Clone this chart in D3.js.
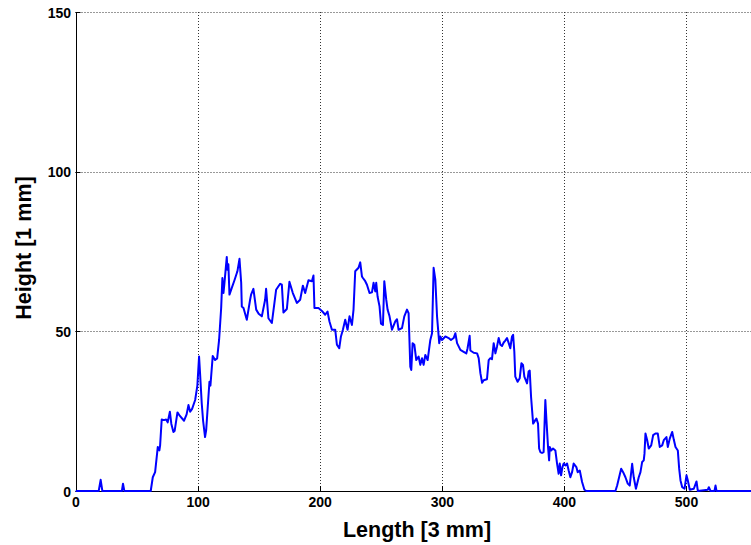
<!DOCTYPE html>
<html>
<head>
<meta charset="utf-8">
<script src="https://cdn.jsdelivr.net/npm/d3@7"></script>
<style>
  html, body { margin: 0; padding: 0; background: #fff; }
  svg { display: block; font-family: "Liberation Sans", Arial, sans-serif; }
</style>
</head>
<body>
<svg id="chart" width="751" height="545"></svg>
<script>
// Surface profile: position along the scan (units of 3 mm) and measured height (mm)
const lengthValues = [
  0, 19, 20.6, 22, 38, 38.9, 40, 61.6, 63.3, 65.2, 67.4, 68.7, 69.3, 70.6, 72.5, 74.2, 75.5, 77.3, 78.5, 80.2,
  81.2, 83.5, 85.5, 88.9, 91, 92.5, 93.9, 95.5, 98, 99.8, 101.2, 102, 103.4, 104.5, 106.1, 107, 109.7, 110.5, 112.4, 114.3,
  116, 117.6, 119.3, 120.3, 121.2, 122, 123.9, 124.4, 125.2, 126.1, 128, 130.2, 132.6, 134.3, 135.7, 136.2, 137.6, 140.3, 143, 143.8,
  145.7, 148, 150, 152.6, 155.3, 156.1, 158, 160.8, 164.3, 167.6, 169, 170.3, 173.1, 175.2, 178, 181.3, 184, 186.2, 188.1, 190.8,
  193.6, 194.9, 195.7, 199, 201.8, 204.5, 206.4, 208, 210, 212.7, 214.1, 216, 217.4, 219, 220.9, 222.8, 224.4, 226.4, 227.7, 229.1,
  231.8, 233.2, 234.6, 235.4, 237.3, 238.7, 240.8, 242.8, 244.1, 245.5, 246.3, 247.4, 249, 250.2, 251.8, 252.9, 254.5, 255.6, 257.2, 259.2,
  261.9, 263.3, 264.6, 267.4, 269.3, 271.5, 272.8, 274.2, 275, 276.1, 277.5, 279.1, 281, 282.4, 283.8, 285.1, 286.5, 288.4, 290.6, 292,
  293.3, 294.7, 296.1, 297.9, 298.8, 300.2, 302.9, 305.6, 307.5, 309.7, 311.1, 312.5, 315.2, 317.9, 320.1, 321.1, 322.8, 323.4, 326.1, 328.9,
  330.2, 331.6, 333, 334.3, 337, 338.4, 339.8, 341.1, 342.5, 343.9, 345.2, 346.6, 348, 349.3, 350.7, 352, 353.4, 354.8, 356.1, 357.5,
  358.4, 359.4, 360.2, 362.1, 363.8, 365.2, 366.5, 367.6, 369.8, 371.1, 372, 373.1, 374.8, 376.6, 377.5, 378.8, 379.7, 380.7, 382.1, 383.4,
  384.8, 385.7, 387, 387.9, 388.4, 389.5, 391.1, 393, 394.4, 395.7, 396.6, 397.7, 398.8, 399.8, 401.2, 402.6, 403.9, 405.3, 406.7, 408,
  410.2, 411.3, 413, 414.9, 416.8, 418.4, 442.2, 443.6, 446.9, 448.5, 450.4, 452.3, 453.9, 455.9, 457.2, 459, 461.3, 462.7, 464.1, 465.4,
  466, 466.8, 468.2, 469.5, 471.5, 473.1, 475, 476.9, 478.5, 480.5, 481.8, 484, 485.1, 486.7, 488.7, 490, 491.4, 493.3, 494.4, 495.5,
  496.9, 498.8, 500.4, 501.5, 503.1, 506.4, 508.6, 509.7, 517.9, 518.7, 520.1, 523.3, 524.2, 525, 560
];
const heightValues = [
  0, 0, 3.5, 0, 0, 2.3, 0, 0, 4.3, 5.9, 13.8, 12.7, 14.3, 22.4, 22.2, 22.4, 21.5, 24.8, 21, 18.5,
  18.8, 24.6, 23.5, 22, 24, 26.9, 24.8, 25.7, 28.5, 33, 42.1, 36.9, 27.4, 22, 16.9, 19, 34.2, 33, 42.3, 41,
  41.5, 47.3, 57.3, 66.7, 62, 65.2, 73.3, 69.3, 71, 61.5, 63.6, 66, 68.8, 72.7, 65.2, 57.8, 57.3, 53.6, 59.9, 61.5,
  63.3, 56.8, 55.5, 54.7, 59.9, 63.3, 54.1, 52.6, 63, 64.9, 64.6, 55.9, 57, 65.5, 62, 58.9, 59.9, 64.3, 62, 66,
  65.7, 67.5, 57.3, 57.3, 56.4, 55.2, 56.2, 53.1, 50.5, 50.5, 45.8, 44.7, 48.4, 50.5, 53.6, 50.5, 54.7, 52, 56.8, 68.8,
  69.9, 71.6, 67.2, 66.7, 65.7, 64.6, 62, 62.2, 65.2, 62.5, 65.2, 60.9, 57.8, 52.4, 52, 65.7, 59.9, 56.8, 54.7, 50.5,
  53.1, 53.8, 50.5, 51, 54.7, 56.8, 55.7, 38.9, 37.9, 46.3, 45.8, 41, 42.1, 39.5, 41.6, 39.5, 42.6, 41, 47.3, 49.4,
  69.9, 66.2, 54.7, 46.3, 48.4, 47.3, 48.4, 47.9, 47.3, 47.9, 49.4, 46.3, 44.2, 43.6, 43.1, 44.7, 48.6, 44, 43.3, 43.1,
  41.6, 36.9, 33.9, 34.7, 35, 41, 41.6, 41.3, 46.3, 43.1, 45.2, 47.9, 45.8, 45.4, 46.5, 47.1, 47.9, 46.3, 44.7, 48.4,
  48.9, 43.6, 35.8, 34.2, 35.3, 40, 39.5, 35.8, 33.7, 37.4, 37.7, 29.5, 21.1, 22.2, 22.7, 21.1, 13.3, 12.2, 11.9, 12.2,
  28.5, 22.2, 13.8, 9.6, 13.8, 12.7, 13.3, 12.7, 8.6, 5.4, 8.6, 4.9, 7.5, 8.6, 8, 8.6, 6.4, 4.3, 5.9, 8.6,
  7.5, 5.9, 6.4, 2.8, 0.4, 0, 0, 1.7, 7, 5.9, 4.3, 2.3, 1.7, 8.5, 4.3, 0.7, 4.3, 5.9, 9.1, 9.6,
  11.7, 18, 15.9, 13.3, 14.3, 17.5, 18, 18, 13.8, 14.3, 15.9, 16.9, 13.8, 16.4, 18.5, 16.1, 13.8, 12.7, 7, 3.3,
  1.2, 0.7, 4.9, 3.3, 0.4, 0.7, 3, 0, 0.4, 1.2, 0, 0, 1.7, 0, 0
];
const xTickValues = [0, 100, 200, 300, 400, 500];
const yTickValues = [0, 50, 100, 150];
const xTitle = "Length [3 mm]";
const yTitle = "Height [1 mm]";

const svg = d3.select("#chart");
const W = 751, H = 545;

const plotLeft = 75.5, plotBottom = 491, plotTop = 12;
const x = d3.scaleLinear().domain([0, 600]).range([plotLeft, plotLeft + 732.6]);
const y = d3.scaleLinear().domain([0, 150]).range([plotBottom, plotTop]);

svg.append("defs").append("clipPath").attr("id", "plotClip")
  .append("rect").attr("x", plotLeft).attr("y", plotTop - 2).attr("width", W - plotLeft).attr("height", plotBottom - plotTop + 3);

// dotted grid
const grid = svg.append("g").attr("stroke", "#333").attr("stroke-width", 1).attr("stroke-dasharray", "1,2").attr("fill", "none");
grid.selectAll("line.gx").data(xTickValues.filter(d => d > 0)).join("line")
  .attr("class", "gx")
  .attr("x1", d => Math.round(x(d)) + 0.5).attr("x2", d => Math.round(x(d)) + 0.5)
  .attr("y1", plotTop).attr("y2", plotBottom);
grid.selectAll("line.gy").data(yTickValues.filter(d => d > 0)).join("line")
  .attr("class", "gy")
  .attr("y1", d => Math.round(y(d)) + 0.5).attr("y2", d => Math.round(y(d)) + 0.5)
  .attr("x1", plotLeft).attr("x2", W);

// axes
const xAxis = d3.axisBottom(x).tickValues(xTickValues).tickSize(0).tickPadding(6).tickFormat(d3.format("d"));
const yAxis = d3.axisLeft(y).tickValues(yTickValues).tickSize(0).tickPadding(5).tickFormat(d3.format("d"));

const gx = svg.append("g").attr("transform", `translate(0,${plotBottom + 0.5})`).call(xAxis);
const gy = svg.append("g").attr("transform", `translate(${plotLeft + 0.5},0)`).call(yAxis);
[gx, gy].forEach(g => {
  g.select(".domain").attr("stroke", "#000").attr("stroke-width", 1);
  g.selectAll("text").attr("font-size", 14).attr("font-weight", "bold").attr("fill", "#000")
    .attr("font-family", "'Liberation Sans', Arial, sans-serif");
});
gx.select(".domain").attr("d", `M${plotLeft},0H${W}`);
gy.selectAll("text").attr("dy", "0.36em");

// small inward ticks
const tk = svg.append("g").attr("stroke", "#000").attr("stroke-width", 1);
tk.selectAll("line.tx").data(xTickValues).join("line")
  .attr("x1", d => Math.round(x(d)) + 0.5).attr("x2", d => Math.round(x(d)) + 0.5)
  .attr("y1", plotBottom).attr("y2", plotBottom - 5);
tk.selectAll("line.ty").data(yTickValues).join("line")
  .attr("y1", d => Math.round(y(d)) + 0.5).attr("y2", d => Math.round(y(d)) + 0.5)
  .attr("x1", plotLeft).attr("x2", plotLeft + 5);

// profile line
const line = d3.line().x((d, i) => x(lengthValues[i])).y((d, i) => y(heightValues[i]));
svg.append("path")
  .datum(heightValues)
  .attr("clip-path", "url(#plotClip)")
  .attr("fill", "none")
  .attr("stroke", "#0000ff")
  .attr("stroke-width", 2)
  .attr("stroke-linejoin", "round")
  .attr("d", line);

// axis titles
svg.append("text")
  .attr("x", 417).attr("y", 537)
  .attr("text-anchor", "middle")
  .attr("font-size", 21.5).attr("font-weight", "bold")
  .text(xTitle);
svg.append("text")
  .attr("transform", `translate(31,248) rotate(-90)`)
  .attr("text-anchor", "middle")
  .attr("font-size", 21.5).attr("font-weight", "bold")
  .text(yTitle);
</script>
</body>
</html>
